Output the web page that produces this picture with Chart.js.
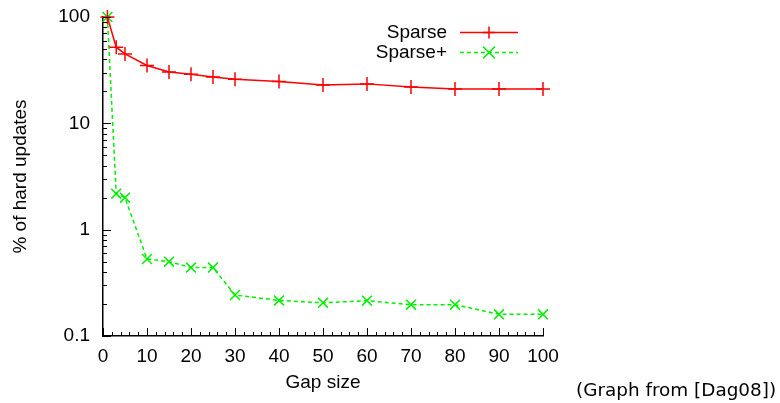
<!DOCTYPE html>
<html><head><meta charset="utf-8">
<script src="https://cdn.jsdelivr.net/npm/chart.js@4/dist/chart.umd.min.js"></script>
<style>
html,body{margin:0;padding:0;background:#fff;}
#wrap{position:relative;width:780px;height:403px;}
#note{position:absolute;left:576px;top:379px;font-family:"DejaVu Sans",sans-serif;font-size:18.4px;line-height:22px;color:#000;white-space:nowrap;}
</style></head>
<body>
<div id="wrap"><canvas id="c" width="780" height="403"></canvas><div id="note">(Graph from [Dag08])</div></div>
<script>
const gapSizes = [1, 3, 5, 10, 15, 20, 25, 30, 40, 50, 60, 70, 80, 90, 100];
const sparse = [100, 52, 45, 35, 30.4, 28.9, 27.3, 26, 24.8, 22.9, 23.5, 22, 21, 21, 21];
const sparsePlus = [100, 2.18, 2.0, 0.53, 0.5, 0.44, 0.44, 0.243, 0.216, 0.205, 0.215, 0.197, 0.197, 0.16, 0.16];
const yTickValues = [0.1, 1, 10, 100];
const xTickValues = [0, 10, 20, 30, 40, 50, 60, 70, 80, 90, 100];
const seriesNames = ["Sparse", "Sparse+"];

const FONT = "'Liberation Sans', Arial, sans-serif";
const RED = "#ff0000", GREEN = "#00ee00";

const inwardTicks = {
  id: "inwardTicks",
  afterDraw(chart) {
    const ctx = chart.ctx, xs = chart.scales.x, ys = chart.scales.y;
    const L = xs.left, B = ys.bottom;
    ctx.save();
    ctx.strokeStyle = "#000";
    ctx.lineWidth = 1;
    for (let d = -1; d <= 1; d++) {
      for (let m = 1; m <= 9; m++) {
        const v = m * Math.pow(10, d);
        const p = Math.round(ys.getPixelForValue(v)) + 0.5;
        const len = m === 1 ? 8 : 4;
        ctx.beginPath(); ctx.moveTo(L, p); ctx.lineTo(L + len, p); ctx.stroke();
      }
    }
    let p100 = Math.round(ys.getPixelForValue(100)) + 0.5;
    ctx.beginPath(); ctx.moveTo(L, p100); ctx.lineTo(L + 8, p100); ctx.stroke();
    for (let v = 0; v <= 100; v += 2) {
      const p = Math.round(xs.getPixelForValue(v)) + 0.5;
      const len = v % 10 === 0 ? 8 : 4;
      ctx.beginPath(); ctx.moveTo(p, B); ctx.lineTo(p, B - len); ctx.stroke();
    }
    ctx.font = "19px " + FONT;
    ctx.textAlign = "right";
    ctx.textBaseline = "middle";
    ctx.fillStyle = "#000";
    const rows = [{y: 32, c: RED, dash: [], style: "cross"}, {y: 52, c: GREEN, dash: [4, 3], style: "x"}];
    rows.forEach((r, i) => {
      ctx.fillText(seriesNames[i], 447, r.y + 1);
      ctx.strokeStyle = r.c; ctx.lineWidth = 1.5; ctx.setLineDash(r.dash);
      ctx.beginPath(); ctx.moveTo(460, r.y + 0.5); ctx.lineTo(518, r.y + 0.5); ctx.stroke();
      ctx.setLineDash([]);
      const cx = 489, cy = r.y + 0.5, s = 6;
      ctx.beginPath();
      if (r.style === "cross") { ctx.moveTo(cx - s, cy); ctx.lineTo(cx + s, cy); ctx.moveTo(cx, cy - s); ctx.lineTo(cx, cy + s); }
      else { ctx.moveTo(cx - s, cy - s); ctx.lineTo(cx + s, cy + s); ctx.moveTo(cx - s, cy + s); ctx.lineTo(cx + s, cy - s); }
      ctx.stroke();
    });
    ctx.restore();
  }
};

new Chart(document.getElementById("c"), {
  type: "line",
  data: {
    datasets: [
      { label: seriesNames[0], data: gapSizes.map((g, i) => ({x: g, y: sparse[i]})),
        borderColor: RED, backgroundColor: RED, borderWidth: 1.5,
        pointStyle: "cross", pointRadius: 7, pointBorderWidth: 1.5, pointBorderColor: RED, clip: false, tension: 0 },
      { label: seriesNames[1], data: gapSizes.map((g, i) => ({x: g, y: sparsePlus[i]})),
        borderColor: GREEN, backgroundColor: GREEN, borderWidth: 1.5, borderDash: [4, 3],
        pointStyle: "crossRot", pointRadius: 7, pointBorderWidth: 1.5, pointBorderColor: GREEN, clip: false, tension: 0 }
    ]
  },
  options: {
    responsive: false, animation: false, devicePixelRatio: 1,
    layout: { padding: { top: 17, right: 237, left: 0, bottom: 0 } },
    plugins: { legend: { display: false }, tooltip: { enabled: false } },
    scales: {
      x: {
        type: "linear", min: 0, max: 100,
        afterBuildTicks: s => { s.ticks = xTickValues.map(v => ({value: v})); },
        afterFit: s => { s.height = 67; s.paddingLeft = 0; s.paddingRight = 0; },
        grid: { display: false, drawTicks: false },
        border: { display: true, color: "#000", width: 1.5 },
        ticks: { color: "#000", font: { family: FONT, size: 19 }, padding: 9, maxRotation: 0, autoSkip: false },
        title: { display: true, text: "Gap size", color: "#000", font: { family: FONT, size: 19 }, padding: { top: 0, bottom: 9 } }
      },
      y: {
        type: "logarithmic", min: 0.1, max: 100,
        afterBuildTicks: s => { s.ticks = yTickValues.map(v => ({value: v})); },
        afterFit: s => { s.width = 103; s.paddingTop = 0; s.paddingBottom = 0; },
        grid: { display: false, drawTicks: false },
        border: { display: true, color: "#000", width: 1.5 },
        ticks: { color: "#000", font: { family: FONT, size: 19 }, padding: 13, autoSkip: false,
                 callback: v => String(v) },
        title: { display: true, text: "% of hard updates", color: "#000", font: { family: FONT, size: 19 }, padding: { top: 9, bottom: 0 } }
      }
    }
  },
  plugins: [inwardTicks]
});
</script>
</body></html>
